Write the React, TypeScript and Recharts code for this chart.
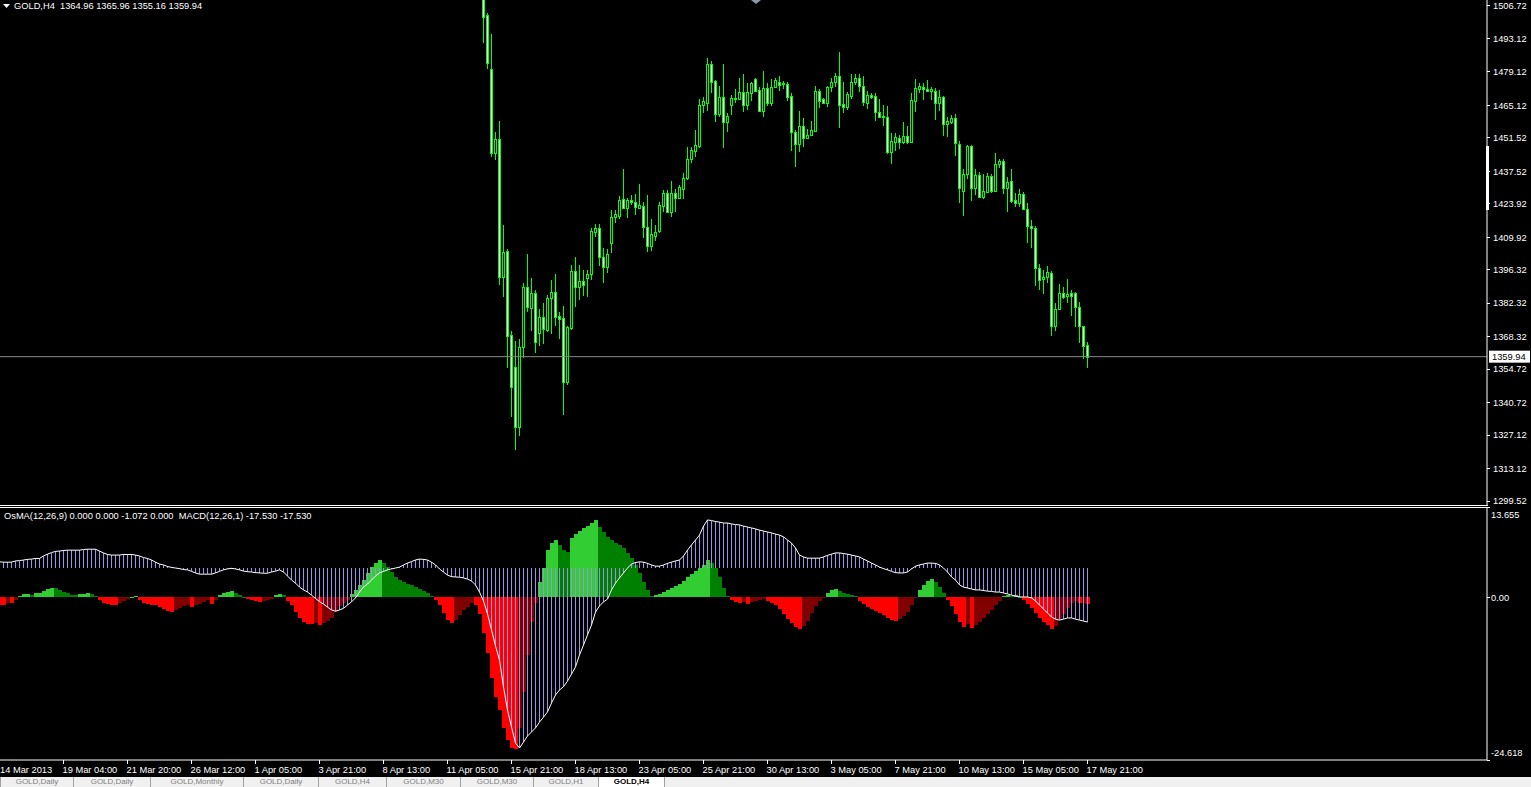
import React from "react"
import { ComposedChart, Bar, Line, XAxis, YAxis, ReferenceLine } from "recharts"

// ---- data (GOLD, H4) ----
const firstCandle = 121

const opens = [
  1516, 1503.0, 1480.2, 1445.3, 1450.9, 1393.4, 1404.3, 1369.0, 1355.6, 1330.6,
  1363.9, 1389.1, 1380.3, 1386.5, 1369.8, 1376.4, 1371.1, 1384.4, 1386.9, 1376.8,
  1376.0, 1349.4, 1372.1, 1395.8, 1389.0, 1391.6, 1393.0, 1394.4, 1412.2, 1413.7,
  1401.5, 1397.3, 1407.6, 1418.3, 1419.0, 1425.8, 1422.3, 1425.5, 1424.8, 1422.3,
  1423.1, 1414.1, 1406.4, 1410.6, 1412.7, 1423.1, 1428.3, 1420.6, 1428.3, 1426.5,
  1430.0, 1434.6, 1442.7, 1446.1, 1448.1, 1465.3, 1466.2, 1482.4, 1475.3, 1461.4,
  1468.5, 1458.3, 1465.3, 1467.8, 1467.8, 1470.6, 1465.3, 1470.4, 1476.0, 1471.6,
  1462.9, 1472.3, 1466.2, 1472.7, 1475.0, 1474.4, 1474.1, 1469.0, 1453.9, 1448.8,
  1456.5, 1451.3, 1452.7, 1454.5, 1471.1, 1467.7, 1466.0, 1472.7, 1475.0, 1477.4,
  1465.7, 1464.6, 1469.2, 1475.0, 1476.5, 1473.4, 1466.2, 1469.5, 1469.0, 1462.2,
  1460.7, 1460.4, 1445.7, 1449.9, 1451.3, 1449.9, 1452.4, 1449.9, 1467.1, 1472.0,
  1472.7, 1472.0, 1471.3, 1471.1, 1466.2, 1468.5, 1457.2, 1458.0, 1459.7, 1448.8,
  1429.4, 1436.3, 1448.1, 1430.4, 1436.0, 1426.6, 1429.0, 1435.6, 1429.4, 1440.4,
  1441.8, 1430.4, 1433.5, 1425.5, 1424.4, 1428.0, 1421.6, 1414.6, 1413.7, 1396.9,
  1392.4, 1393.1, 1394.8, 1372.9, 1379.8, 1386.4, 1385.4, 1386.4, 1386.4, 1380.6,
  1372.9, 1364.96,
]
const highs = [
  1520, 1503.7, 1495.0, 1453.9, 1458.6, 1415.0, 1405.0, 1370.7, 1366.5, 1367.3,
  1390.6, 1402.9, 1392.9, 1387.8, 1379.9, 1382.4, 1385.7, 1392.0, 1394.5, 1378.7,
  1381.1, 1372.8, 1398.3, 1401.6, 1398.3, 1396.2, 1396.2, 1413.7, 1415.5, 1415.5,
  1405.4, 1405.0, 1421.3, 1421.3, 1427.2, 1438.5, 1426.2, 1427.6, 1427.9, 1432.2,
  1424.5, 1427.6, 1417.6, 1415.0, 1424.5, 1429.7, 1429.7, 1433.4, 1430.1, 1431.8,
  1437.0, 1447.8, 1447.8, 1454.8, 1467.7, 1468.8, 1484.8, 1483.7, 1475.7, 1473.2,
  1482.4, 1461.8, 1469.5, 1472.0, 1476.7, 1478.3, 1474.6, 1475.0, 1476.5, 1472.7,
  1479.5, 1474.6, 1476.2, 1476.7, 1477.4, 1475.4, 1474.8, 1470.2, 1454.8, 1462.8,
  1459.7, 1455.2, 1458.7, 1473.2, 1472.0, 1468.1, 1473.2, 1476.5, 1478.5, 1487.6,
  1474.8, 1470.8, 1478.3, 1478.3, 1478.3, 1477.4, 1471.3, 1470.2, 1470.2, 1467.8,
  1465.3, 1464.9, 1453.4, 1453.4, 1452.7, 1458.0, 1456.5, 1470.2, 1476.2, 1474.4,
  1474.4, 1475.7, 1472.7, 1472.3, 1471.6, 1469.0, 1460.4, 1461.1, 1461.5, 1450.2,
  1438.5, 1448.5, 1448.5, 1438.5, 1437.4, 1436.3, 1436.7, 1436.4, 1445.3, 1442.7,
  1442.5, 1435.2, 1438.5, 1428.3, 1430.0, 1429.0, 1424.1, 1417.1, 1414.6, 1398.7,
  1396.2, 1397.9, 1395.9, 1382.3, 1390.3, 1388.9, 1392.4, 1387.8, 1387.1, 1382.7,
  1372.9, 1365.96,
]
const lows = [
  1491.4, 1480.3, 1443.6, 1442.3, 1389.9, 1385.0, 1355.2, 1334.8, 1320.9, 1326.9,
  1359.5, 1378.7, 1370.8, 1361.6, 1364.5, 1365.2, 1370.4, 1369.4, 1372.9, 1367.3,
  1335.5, 1348.1, 1371.1, 1380.8, 1383.7, 1385.3, 1385.0, 1392.0, 1410.2, 1398.0,
  1390.9, 1394.8, 1403.2, 1416.0, 1417.6, 1421.7, 1418.1, 1423.4, 1419.2, 1422.0,
  1409.7, 1403.9, 1404.3, 1408.5, 1411.6, 1420.6, 1420.4, 1418.5, 1420.4, 1425.9,
  1425.9, 1433.9, 1441.1, 1443.4, 1447.4, 1462.1, 1462.8, 1470.4, 1458.3, 1460.4,
  1447.4, 1454.1, 1461.1, 1466.2, 1467.4, 1462.5, 1463.2, 1467.1, 1470.8, 1462.5,
  1460.4, 1465.0, 1464.9, 1472.3, 1471.3, 1472.0, 1467.1, 1446.0, 1439.4, 1445.7,
  1447.8, 1450.9, 1452.3, 1453.9, 1463.9, 1465.6, 1464.6, 1470.8, 1472.7, 1455.5,
  1461.8, 1463.2, 1467.7, 1473.6, 1470.6, 1465.0, 1463.6, 1467.7, 1458.7, 1460.4,
  1456.6, 1444.8, 1440.6, 1446.1, 1446.8, 1449.0, 1449.0, 1449.9, 1462.5, 1470.2,
  1467.4, 1470.8, 1467.4, 1459.0, 1462.8, 1452.3, 1452.0, 1457.2, 1443.9, 1424.4,
  1418.9, 1434.3, 1425.2, 1427.6, 1426.5, 1425.9, 1428.7, 1428.6, 1429.4, 1439.0,
  1428.0, 1420.6, 1424.1, 1422.7, 1422.7, 1421.3, 1407.6, 1405.5, 1389.6, 1387.8,
  1386.2, 1390.9, 1368.6, 1370.8, 1379.8, 1383.9, 1382.5, 1377.0, 1372.5, 1365.8,
  1358.9, 1355.16,
]
const closes = [
  1502.2, 1482.7, 1445.3, 1450.9, 1393.4, 1403.9, 1368.7, 1347.2, 1330.6, 1363.9,
  1389.0, 1380.7, 1386.6, 1366.2, 1376.5, 1371.4, 1384.4, 1387.0, 1376.7, 1375.6,
  1349.4, 1372.5, 1395.8, 1389.0, 1391.6, 1389.8, 1394.4, 1412.5, 1413.7, 1401.5,
  1397.6, 1402.9, 1418.3, 1419.7, 1425.5, 1422.3, 1425.5, 1424.8, 1422.7, 1423.4,
  1414.1, 1406.4, 1411.2, 1412.0, 1423.4, 1428.3, 1420.6, 1428.3, 1426.5, 1431.1,
  1434.6, 1442.7, 1446.4, 1448.5, 1465.3, 1467.0, 1482.4, 1475.0, 1461.4, 1468.5,
  1458.3, 1460.7, 1468.1, 1468.1, 1470.6, 1465.3, 1470.6, 1474.4, 1471.3, 1462.9,
  1472.3, 1466.2, 1472.7, 1475.7, 1473.7, 1474.1, 1468.7, 1453.9, 1448.8, 1456.5,
  1451.3, 1452.7, 1454.8, 1471.1, 1467.1, 1466.0, 1472.7, 1475.0, 1477.4, 1465.3,
  1464.6, 1469.9, 1475.0, 1476.5, 1473.4, 1466.7, 1469.5, 1468.5, 1462.2, 1460.4,
  1460.4, 1445.7, 1450.2, 1451.8, 1449.9, 1452.4, 1449.9, 1467.4, 1472.3, 1473.2,
  1471.8, 1471.1, 1472.0, 1466.2, 1468.5, 1457.2, 1458.6, 1459.7, 1449.2, 1430.4,
  1436.3, 1448.1, 1430.4, 1436.0, 1426.6, 1429.3, 1435.6, 1429.4, 1440.6, 1441.8,
  1430.4, 1432.9, 1425.2, 1424.4, 1428.0, 1421.7, 1414.6, 1413.7, 1396.9, 1392.0,
  1393.1, 1395.2, 1372.9, 1379.8, 1386.4, 1385.0, 1386.2, 1385.4, 1380.6, 1372.9,
  1364.5, 1359.94,
]

// OsMA(12,26,9), one value per bar from 14 Mar 2013
const osma = [
  -1.2, -1.2, -0.9, -0.9, -0.4, 0.2, 0.45, 0.5, 0.4, 0.6,
  0.65, 1.0, 1.3, 1.45, 1.4, 1.1, 0.8, 0.65, 0.35, 0.3,
  0.5, 0.55, 0.6, 0.5, 0.2, -0.4, -0.85, -1.0, -1.15, -1.2,
  -0.9, -0.6, -0.3, 0.05, 0.25, -0.4, -0.85, -1.0, -1.15, -1.2,
  -1.45, -1.75, -2.05, -2.2, -1.9, -1.6, -1.3, -1.15, -1.45, -1.15,
  -1.0, -0.7, -0.4, -1.05, -0.4, 0.35, 0.65, 0.8, 0.95, 0.65,
  0.35, 0.05, -0.25, -0.4, -0.55, -0.7, -0.55, -0.4, -0.25, 0.35,
  0.5, 0.35, -0.55, -1.15, -2.2, -3.1, -3.75, -4.05, -4.1, -3.9,
  -4.2, -3.95, -3.6, -3.1, -2.2, -1.3, -0.85, -0.4, 0.5, 1.1,
  1.85, 2.6, 3.7, 4.6, 5.2, 5.65, 5.2, 4.6, 3.8, 3.05,
  2.6, 2.3, 2.0, 1.85, 1.55, 1.25, 0.95, 0.65, 0.2, -0.4,
  -1.15, -2.35, -3.45, -3.9, -3.45, -2.7, -1.9, -1.45, -0.85, -1.15,
  -2.5, -5.4, -8.4, -12.2, -15.05, -17.05, -19.75, -21.6, -22.8, -22.9,
  -19.75, -14.3, -8.7, -3.75, -0.85, 2.35, 4.45, 7.15, 8.2, 8.65,
  7.9, 7.15, 6.85, 8.95, 9.55, 10.0, 10.5, 10.8, 11.25, 11.7,
  10.65, 9.9, 9.1, 8.65, 8.2, 7.9, 7.45, 6.7, 5.95, 4.9,
  3.7, 2.3, 1.1, 0.2, 0.35, 0.5, 0.8, 1.1, 1.4, 1.7,
  2.0, 2.45, 3.05, 3.5, 4.0, 4.45, 4.9, 5.65, 5.2, 4.45,
  3.05, 1.4, 0.2, -0.4, -0.7, -0.85, -0.7, -0.95, -0.7, -0.55,
  -0.4, -0.25, -0.55, -0.85, -1.15, -1.75, -2.5, -3.3, -3.9, -4.5,
  -4.8, -4.35, -3.6, -2.35, -1.3, -0.55, -0.1, 0.65, 1.1, 1.25,
  0.95, 0.65, 0.5, 0.35, 0.2, -0.55, -1.0, -1.45, -1.75, -2.05,
  -2.35, -2.65, -3.1, -3.45, -3.6, -3.3, -2.8, -2.2, -1.15, -0.1,
  1.1, 1.85, 2.45, 2.75, 2.3, 1.55, 0.65, -0.4, -1.3, -2.5,
  -3.75, -4.5, -4.05, -4.65, -4.2, -3.75, -3.1, -2.5, -1.9, -1.15,
  -0.55, 0.2, 0.35, 0.2, 0.3, 0.05, -0.4, -1.0, -1.6, -2.35,
  -3.1, -3.75, -4.2, -4.8, -4.35, -3.45, -2.5, -1.6, -0.85, -0.55,
  -0.85, -0.8, -1.072,
]

// MACD(12,26,1), same bars
const macd = [
  2.0, 1.9, 1.9, 1.9, 2.3, 2.4, 2.6, 2.8, 2.9, 3.1,
  3.1, 3.9, 4.5, 5.0, 5.4, 5.5, 5.7, 5.8, 5.8, 5.8,
  5.8, 6.0, 6.1, 6.1, 6.1, 5.5, 4.9, 4.4, 4.2, 4.2,
  4.2, 4.4, 4.4, 4.4, 4.2, 3.9, 3.4, 3.1, 2.6, 1.9,
  1.3, 1.0, 0.5, 0.2, 0, -0.2, -0.5, -0.6, -1.1, -1.6,
  -2.0, -2.0, -2.0, -2.0, -1.6, -1.1, -0.6, -0.3, -0.1, -0.3,
  -0.6, -1.0, -1.2, -1.3, -1.5, -1.6, -1.7, -1.7, -1.3, -1.0,
  -0.6, -1.3, -2.6, -3.9, -4.9, -6.2, -7.1, -7.8, -8.8, -9.9,
  -10.9, -11.7, -12.7, -13.6, -14.0, -13.6, -13.1, -12.0, -11.0, -9.7,
  -7.8, -6.2, -5.2, -3.9, -2.6, -1.6, -1.1, -0.6, -0.3, 0,
  0.3, 1.0, 1.6, 2.1, 2.6, 2.9, 2.8, 2.6, 1.9, 1.0,
  -0.3, -1.3, -2.3, -2.8, -2.9, -3.0, -3.2, -3.6, -4.2, -5.5,
  -7.8, -10.7, -14.9, -20.1, -25.3, -29.9, -38.6, -46.1, -51.6, -56.8,
  -58.4, -56.5, -54.5, -53.2, -51.9, -50.0, -48.4, -46.7, -43.8, -41.2,
  -39.6, -38.5, -36.7, -34.4, -32.1, -28.2, -25.0, -21.7, -18.5, -14.3,
  -12.3, -11.0, -10.1, -7.1, -4.9, -3.2, -1.6, 0, 1.3, 1.8,
  2.0, 1.9, 1.5, 1.0, 0.6, 0.6, 1.0, 1.5, 1.9, 2.3,
  2.6, 3.9, 5.8, 7.5, 9.1, 10.7, 13.6, 15.6, 15.4, 15.1,
  14.9, 14.6, 14.6, 14.3, 14.1, 14.0, 13.6, 13.3, 13.0, 12.7,
  12.3, 12.0, 11.7, 11.4, 11.0, 10.7, 10.1, 9.1, 8.1, 6.5,
  4.2, 3.6, 3.2, 3.2, 3.2, 3.2, 3.6, 4.1, 4.5, 4.9,
  4.9, 4.7, 4.5, 4.2, 3.9, 3.6, 2.9, 2.3, 1.6, 1.0,
  0.3, -0.2, -0.6, -1.1, -1.5, -1.6, -1.6, -1.3, -0.3, 0.6,
  1.0, 1.3, 1.6, 1.6, 1.5, 1.0, 0, -1.3, -2.9, -3.9,
  -5.5, -6.2, -6.5, -6.8, -7.1, -7.1, -7.3, -7.5, -7.6, -7.8,
  -7.8, -8.1, -8.4, -8.8, -9.1, -9.4, -9.4, -9.4, -9.7, -10.7,
  -12.0, -13.3, -14.6, -15.9, -16.6, -16.9, -16.6, -16.2, -16.2, -16.6,
  -16.9, -17.2, -17.53,
]

const priceTicks = [
  1506.72, 1493.12, 1479.12, 1465.12, 1451.52, 1437.52, 1423.92, 1409.92, 1396.32,
  1382.32, 1368.32, 1359.94, 1354.72, 1340.72, 1327.12, 1313.12, 1299.52,
]
const lastPrice = 1359.94
const osmaTicks = [13.655, 0, -24.618]
const dateLabels = [
  "14 Mar 2013", "19 Mar 04:00", "21 Mar 20:00", "26 Mar 12:00", "1 Apr 05:00", "3 Apr 21:00",
  "8 Apr 13:00", "11 Apr 05:00", "15 Apr 21:00", "18 Apr 13:00", "23 Apr 05:00", "25 Apr 21:00",
  "30 Apr 13:00", "3 May 05:00", "7 May 21:00", "10 May 13:00", "15 May 05:00", "17 May 21:00",
]
const barsPerLabel = 16
const tabLabels = [
  "GOLD,Daily", "GOLD,Daily", "GOLD,Monthly", "GOLD,Daily", "GOLD,H4",
  "GOLD,M30", "GOLD,M30", "GOLD,H1", "GOLD,H4",
]
const headerText = "GOLD,H4  1364.96 1365.96 1355.16 1359.94"
const indicatorText = "OsMA(12,26,9) 0.000 0.000 -1.072 0.000  MACD(12,26,1) -17.530 -17.530"

// ---- layout ----
const W = 1531
const AXIS_W = 44
const X_DOMAIN: [number, number] = [0.125, 371.875]
const PRICE_DOMAIN: [number, number] = [1297.85, 1509.23]
const OSMA_DOMAIN: [number, number] = [-24.618, 13.655]
const MACD_DOMAIN: [number, number] = [-62.3, 19.8]
const FONT = '"Liberation Sans", Arial, sans-serif'
const FS = 9.3
const tabLeft = [0, 73, 150, 243, 318, 386, 460, 533, 598]

const candleData = opens.map((o, k) => ({
  i: firstCandle + k,
  o,
  h: highs[k],
  l: lows[k],
  c: closes[k],
  range: [lows[k], highs[k]],
}))

const osmaColor = (k: number) => {
  const v = osma[k]
  const p = k > 0 ? osma[k - 1] : v
  if (v >= 0) return v >= p ? "#32cd32" : "#008000"
  return v <= p ? "#ff0000" : "#800000"
}

const indData = osma.map((v, i) => ({ i, osma: v, macd: macd[i], color: osmaColor(i) }))
const dateTicks = dateLabels.map((_, k) => k * barsPerLabel)

function Candle(props: any) {
  const { x, y, width, height, payload } = props
  if (x == null || y == null) return null
  const { o, h, l, c } = payload
  const yTop = Math.min(y, y + height)
  const span = Math.abs(height)
  const range = h - l || 1
  const py = (v: number) => yTop + ((h - v) / range) * span
  const col = Math.floor(x + width / 2)
  const wTop = Math.round(yTop)
  const wBot = Math.round(yTop + span)
  const bTop = Math.round(py(Math.max(o, c)))
  const bBot = Math.round(py(Math.min(o, c)))
  const bh = Math.max(bBot - bTop, 0)
  return (
    <g shapeRendering="crispEdges">
      <rect x={col} y={wTop} width={1} height={Math.max(wBot - wTop, 1)} fill="#00ff00" />
      <rect x={col - 1} y={bTop} width={3} height={bh + 1} fill="#00ff00" />
      {bh > 1 && <rect x={col} y={bTop + 1} width={1} height={bh - 1} fill={c < o ? "#ffffff" : "#000000"} />}
    </g>
  )
}

function OsmaBar(props: any) {
  const { x, y, width, height, payload } = props
  if (x == null || y == null || !height) return null
  const top = Math.round(Math.min(y, y + height))
  const bot = Math.round(Math.max(y, y + height))
  return (
    <rect x={Math.round(x)} y={top} width={Math.round(width)} height={Math.max(bot - top, 1)}
      fill={payload.color} shapeRendering="crispEdges" />
  )
}

function MacdBar(props: any) {
  const { x, y, width, height } = props
  if (x == null || y == null || !height) return null
  const top = Math.round(Math.min(y, y + height))
  const bot = Math.round(Math.max(y, y + height))
  return (
    <rect x={Math.floor(x + width / 2)} y={top} width={1} height={Math.max(bot - top, 1)}
      fill="#9a92e2" shapeRendering="crispEdges" />
  )
}

function PriceTick(props: any) {
  const { x, y, payload } = props
  const v = payload.value as number
  if (v === lastPrice) {
    return (
      <g>
        <rect x={x + 2} y={y - 6} width={41} height={12} fill="#ffffff" />
        <text x={x + 5} y={y} dy="0.35em" fill="#000" fontSize={FS} fontFamily={FONT}>{v.toFixed(2)}</text>
      </g>
    )
  }
  return (
    <g>
      <line x1={x} x2={x + 3} y1={y} y2={y} stroke="#fff" shapeRendering="crispEdges" />
      <text x={x + 6} y={y} dy="0.35em" fill="#fff" fontSize={FS} fontFamily={FONT}>{v.toFixed(2)}</text>
    </g>
  )
}

function OsmaTick(props: any) {
  const { x, y, payload } = props
  const v = payload.value as number
  const shift = v === osmaTicks[0] ? 8 : v === osmaTicks[2] ? -7 : 0
  const label = v === 0 ? "0.00" : v.toFixed(3)
  return (
    <g>
      <line x1={x} x2={x + 3} y1={y} y2={y} stroke="#fff" shapeRendering="crispEdges" />
      <text x={x + 4} y={y + shift} dy="0.35em" fill="#fff" fontSize={FS} fontFamily={FONT}>{label}</text>
    </g>
  )
}

function DateTick(props: any) {
  const { x, y, payload } = props
  const label = dateLabels[Math.round(payload.value / barsPerLabel)]
  return (
    <g>
      <line x1={x} x2={x} y1={y} y2={y + 4} stroke="#fff" shapeRendering="crispEdges" />
      <text x={Math.max(x - 1, 0)} y={y + 10} dy="0.35em" fill="#fff" fontSize={FS} fontFamily={FONT}>{label}</text>
    </g>
  )
}

const abs = (left: number, top: number, width: number, height: number): React.CSSProperties => ({
  position: "absolute", left, top, width, height,
})

export default function App() {
  return (
    <div style={{ position: "fixed", left: 0, top: 0, width: W, height: 787, background: "#000", overflow: "hidden", fontFamily: FONT }}>
      {/* price pane */}
      <div style={abs(0, 0, W, 505)}>
        <ComposedChart width={W} height={505} data={candleData} margin={{ top: 0, right: 0, bottom: 0, left: 0 }}>
          <XAxis dataKey="i" type="number" domain={X_DOMAIN} allowDataOverflow hide />
          <YAxis orientation="right" width={AXIS_W} domain={PRICE_DOMAIN} allowDataOverflow
            ticks={priceTicks} interval={0} tickSize={0} tickMargin={0} tick={<PriceTick />}
            axisLine={{ stroke: "#fff" }} tickLine={false} />
          <ReferenceLine y={lastPrice} stroke="#8a8a8a" ifOverflow="hidden" />
          <Bar dataKey="range" barSize={3} shape={<Candle />} isAnimationActive={false} />
        </ComposedChart>
      </div>

      {/* indicator pane: OsMA histogram + axes */}
      <div style={abs(0, 507, W, 270)}>
        <ComposedChart width={W} height={270} data={indData} margin={{ top: 0, right: 0, bottom: 0, left: 0 }}>
          <XAxis dataKey="i" type="number" domain={X_DOMAIN} allowDataOverflow height={17}
            ticks={dateTicks} interval={0} tickSize={0} tickMargin={0} tick={<DateTick />}
            axisLine={{ stroke: "#fff" }} tickLine={false} />
          <YAxis orientation="right" width={AXIS_W} domain={OSMA_DOMAIN} allowDataOverflow
            ticks={osmaTicks} interval={0} tickSize={0} tickMargin={0} tick={<OsmaTick />}
            axisLine={{ stroke: "#fff" }} tickLine={false} />
          <Bar dataKey="osma" barSize={4} shape={<OsmaBar />} isAnimationActive={false} />
        </ComposedChart>
      </div>

      {/* indicator pane: MACD lines, own scale */}
      <div style={abs(0, 507, W, 270)}>
        <ComposedChart width={W} height={270} data={indData} margin={{ top: 0, right: AXIS_W, bottom: 17, left: 0 }}>
          <XAxis dataKey="i" type="number" domain={X_DOMAIN} allowDataOverflow hide />
          <YAxis domain={MACD_DOMAIN} allowDataOverflow hide />
          <Bar dataKey="macd" barSize={1} shape={<MacdBar />} isAnimationActive={false} />
          <Line dataKey="macd" type="linear" stroke="#ffffff" strokeWidth={1} dot={false} isAnimationActive={false} />
        </ComposedChart>
      </div>

      {/* pane separators and frame details */}
      <div style={{ ...abs(0, 505, 1488, 1), background: "#fff" }} />
      <div style={{ ...abs(0, 507, 1488, 1), background: "#fff" }} />
      <div style={{ ...abs(1486, 146, 3, 64), background: "#fff" }} />
      <svg style={abs(750, 0, 12, 6)} width={12} height={6}>
        <polygon points="1,0 11,0 6,4" fill="#8a97a6" />
      </svg>

      {/* titles */}
      <svg style={abs(2, 2, 9, 8)} width={9} height={8}>
        <polygon points="1,2 8,2 4.5,6" fill="#fff" />
      </svg>
      <div style={{ ...abs(14, 0, 400, 12), color: "#fff", fontSize: FS, lineHeight: "12px", whiteSpace: "pre" }}>{headerText}</div>
      <div style={{ ...abs(4, 510, 500, 12), color: "#fff", fontSize: FS, lineHeight: "12px", whiteSpace: "pre" }}>{indicatorText}</div>

      {/* tabs */}
      <div style={{ ...abs(0, 777, W, 10), background: "#f0f0f0", overflow: "hidden" }}>
        {tabLabels.map((t, k) => {
          const active = k === tabLabels.length - 1
          const left = tabLeft[k]
          const width = active ? 67 : tabLeft[k + 1] - left
          return (
            <div key={k} style={{
              ...abs(left, 0, width, 10),
              background: active ? "#ffffff" : "#f0f0f0",
              borderLeft: "1px solid #a0a0a0",
              borderRight: active ? "1px solid #a0a0a0" : undefined,
              color: active ? "#000" : "#808080",
              fontWeight: active ? 700 : 400,
              fontSize: 8,
              lineHeight: "10px",
              textAlign: "center",
              boxSizing: "border-box",
              whiteSpace: "nowrap",
            }}>{t}</div>
          )
        })}
      </div>
    </div>
  )
}
